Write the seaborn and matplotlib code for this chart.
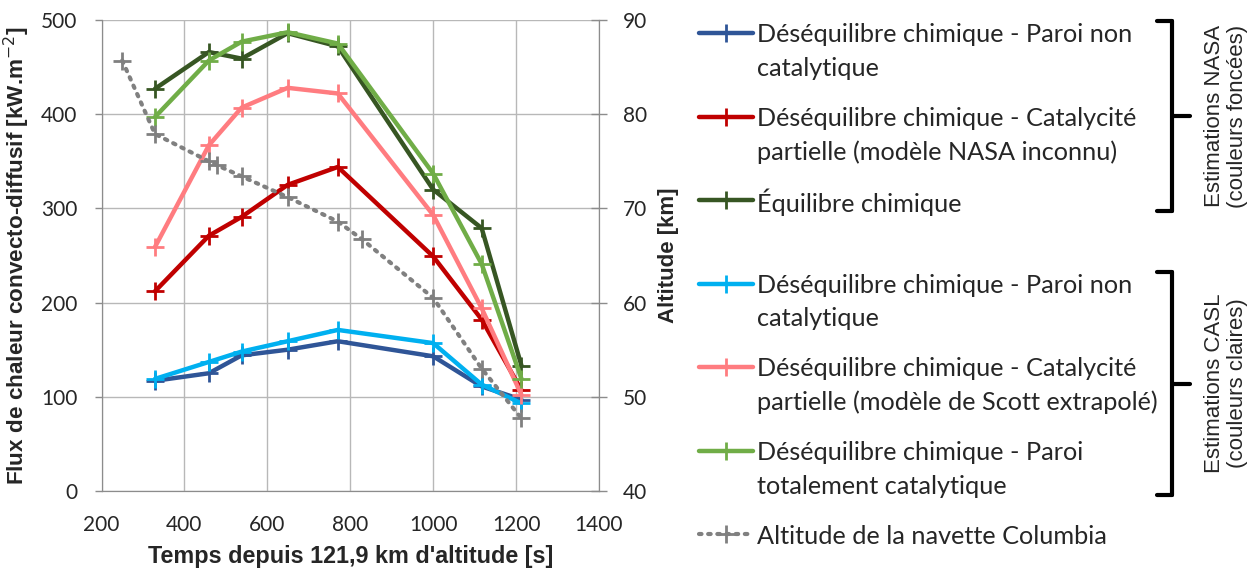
import pandas as pd
import matplotlib
matplotlib.use("Agg")
import matplotlib.pyplot as plt
import seaborn as sns
from matplotlib.lines import Line2D

# heat flux series (kW/m2) vs time since 121.9 km (s)
temps = [329, 459, 538, 649, 770, 1000, 1117, 1213]
neq_nc_nasa = [117, 125, 144, 150, 159, 143, 111, 97]
neq_cat_nasa = [212, 271, 291, 325, 344, 249, 182, 107]
eq_nasa = [427, 466, 459, 486, 472, 320, 279, 133]
neq_nc_casl = [119, 137, 148, 159, 171, 157, 113, 93]
neq_cat_casl = [259, 367, 407, 428, 422, 293, 194, 102]
neq_tc_casl = [397, 457, 477, 487, 475, 337, 241, 119]

# shuttle altitude (km)
temps_alt = [250, 329, 459, 478, 538, 649, 770, 829, 1000, 1117, 1213]
altitude = [85.7, 77.9, 75.0, 74.6, 73.4, 71.2, 68.6, 66.7, 60.5, 53.0, 47.7]

labels = ["Déséquilibre chimique - Paroi non\ncatalytique",
          "Déséquilibre chimique - Catalycité\npartielle (modèle NASA inconnu)",
          "Équilibre chimique",
          "Déséquilibre chimique - Paroi non\ncatalytique",
          "Déséquilibre chimique - Catalycité\npartielle (modèle de Scott extrapolé)",
          "Déséquilibre chimique - Paroi\ntotalement catalytique",
          "Altitude de la navette Columbia"]
colors = ["#2f5597", "#c00000", "#375623", "#00b0f0", "#ff7c80", "#70ad47", "#808080"]

sns.set_style("white")
plt.rcParams['font.family'] = ['Lato', 'DejaVu Sans']

W, H = 1260, 575
fig = plt.figure(figsize=(12.6, 5.75), dpi=100)
ax = fig.add_axes([101.5/W, 1-491/H, (599-101.5)/W, (491-20)/H])
ax2 = ax.twinx()

series = [neq_nc_nasa, neq_cat_nasa, eq_nasa, neq_nc_casl, neq_cat_casl, neq_tc_casl]
for vals, c in zip(series, colors[:6]):
    df = pd.DataFrame({"t": temps, "q": vals})
    sns.lineplot(data=df, x="t", y="q", ax=ax, color=c, lw=3.2, marker="+",
                 markersize=13, markeredgewidth=2, markeredgecolor=c, sort=False)

dfa = pd.DataFrame({"t": temps_alt, "h": altitude})
sns.lineplot(data=dfa, x="t", y="h", ax=ax2, color=colors[6], lw=3, ls=(0, (0.6, 1.6)),
             dash_capstyle="round", marker="+", markersize=13, markeredgewidth=2,
             markeredgecolor=colors[6], sort=False)

ax.set_xlim(200, 1400)
ax.set_ylim(0, 500)
ax2.set_ylim(40, 90)
ax.set_xticks(range(200, 1401, 200))
ax.set_yticks(range(0, 501, 100))
ax2.set_yticks(range(40, 91, 10))
ax.grid(True, color="#b8b8b8", lw=1)
ax.set_axisbelow(True)
for a in (ax, ax2):
    for s in a.spines.values():
        s.set_color("#8c8c8c")
    a.spines["top"].set_visible(False)
ax.tick_params(axis="both", labelsize=15, color="#8c8c8c", length=5, width=1, direction="out", pad=12.5)
ax2.tick_params(axis="y", labelsize=15, color="#8c8c8c", length=11.5, width=1, direction="inout", pad=11.5)

ax.set_xlabel("Temps depuis 121,9 km d'altitude [s]", fontsize=16.8, fontweight="bold",
              family="Liberation Sans", labelpad=7)
ax.set_ylabel("Flux de chaleur convecto-diffusif [kW.m$^{-2}$]", fontsize=16.2, fontweight="bold",
              family="Liberation Sans")
ax.yaxis.set_label_coords(-0.14, 0.5)
ax2.set_ylabel("Altitude [km]", fontsize=16, fontweight="bold", family="Liberation Sans", labelpad=8)

# legend drawn by hand so the handle sits on the first text line
rows = [33, 117, 200, 284, 367, 451, 534]
for lab, c, y in zip(labels, colors, rows):
    yf = 1 - y/H
    if c == colors[6]:
        fig.add_artist(Line2D([699/W, 753/W], [yf, yf], color=c, lw=3, ls=(0, (0.6, 1.6)),
                              dash_capstyle="round"))
    else:
        fig.add_artist(Line2D([699/W, 753/W], [yf, yf], color=c, lw=3.2))
    fig.add_artist(Line2D([726/W], [yf], color=c, marker="+", markersize=13, markeredgewidth=2))
    for i, line in enumerate(lab.split("\n")):
        fig.text(757/W, 1 - (y + 33*i)/H, line, fontsize=18.2, va="center_baseline", ha="left")

# brackets
def bracket(top, bot):
    xv, xl, xr = 1172, 1157, 1190
    mid = (top + bot) / 2
    f = lambda px, py: (px/W, 1 - py/H)
    for (x0, y0), (x1, y1) in [((xl, top), (xv, top)), ((xv, top), (xv, bot)),
                               ((xl, bot), (xv, bot)), ((xv, mid), (xr, mid))]:
        a, b = f(x0, y0)
        c, d = f(x1, y1)
        fig.add_artist(Line2D([a, c], [b, d], color="black", lw=3, solid_capstyle="round"))
    return mid

m1 = bracket(21, 211)
m2 = bracket(272, 495)
fig.text(1226/W, 1 - m1/H, "Estimations NASA\n(couleurs foncées)", rotation=90, ha="center",
         va="center", fontsize=16, family="Liberation Sans", linespacing=1.1)
fig.text(1226/W, 1 - m2/H, "Estimations CASL\n(couleurs claires)", rotation=90, ha="center",
         va="center", fontsize=16, family="Liberation Sans", linespacing=1.1)

fig.savefig("out.png", dpi=100)
